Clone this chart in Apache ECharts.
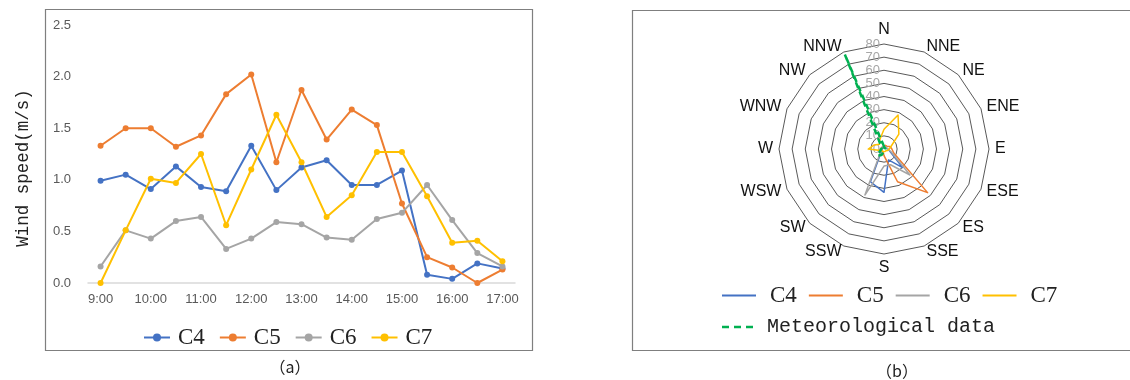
<!DOCTYPE html>
<html>
<head>
<meta charset="utf-8">
<script src="https://cdn.jsdelivr.net/npm/echarts@6/dist/echarts.min.js"></script>
<style>
  html, body { margin: 0; background: #fff; }
  #main { width: 1130px; height: 380px; }
</style>
</head>
<body>
<div id="main"></div>
<script>
// (a) wind speed over the day
const times = ["9:00", "9:30", "10:00", "10:30", "11:00", "11:30", "12:00", "12:30", "13:00",
  "13:30", "14:00", "14:30", "15:00", "15:30", "16:00", "16:30", "17:00"];
const speedC4 = [0.99, 1.05, 0.91, 1.13, 0.93, 0.89, 1.33, 0.90, 1.12, 1.19, 0.95, 0.95, 1.09, 0.08, 0.04, 0.19, 0.14];
const speedC5 = [1.33, 1.50, 1.50, 1.32, 1.43, 1.83, 2.02, 1.17, 1.87, 1.39, 1.68, 1.53, 0.77, 0.25, 0.15, 0.00, 0.13];
const speedC6 = [0.16, 0.51, 0.43, 0.60, 0.64, 0.33, 0.43, 0.59, 0.57, 0.44, 0.42, 0.62, 0.68, 0.95, 0.61, 0.29, 0.16];
const speedC7 = [0.00, 0.51, 1.01, 0.97, 1.25, 0.56, 1.10, 1.63, 1.17, 0.64, 0.85, 1.27, 1.27, 0.84, 0.39, 0.41, 0.21];
const speedTicks = [0, 0.5, 1.0, 1.5, 2.0, 2.5];

// (b) wind rose, compass order (clockwise from N)
const directions = ["N", "NNE", "NE", "ENE", "E", "ESE", "ES", "SSE", "S", "SSW", "SW", "WSW", "W", "WNW", "NW", "NNW"];
const roseC4 = [1, 2, 2, 2, 3, 5, 20, 9, 33, 27, 3, 2, 2, 1, 1, 1];
const roseC5 = [2, 3, 3, 5, 6, 8, 47, 27, 5, 2, 2, 2, 3, 2, 2, 2];
const roseC6 = [2, 2, 2, 2, 3, 6, 28, 13, 13, 38, 4, 2, 2, 2, 2, 2];
const roseC7 = [15, 28, 16, 6, 4, 3, 2, 2, 2, 2, 2, 3, 12, 8, 5, 8];
const roseMet = [2, 1, 1, 1, 1, 1, 1, 1, 2, 5, 7, 3, 2, 2, 3, 78];

const colors = { C4: "#4472C4", C5: "#ED7D31", C6: "#A5A5A5", C7: "#FFC000", met: "#00B050" };

// radar goes counter-clockwise, so walk the compass backwards after N
const order = directions.map((d, i) => (i === 0 ? 0 : directions.length - i));
const reorder = (arr) => order.map((i) => arr[i]);

const chart = echarts.init(document.getElementById("main"), null, { renderer: "canvas" });

function lineSeries(name, data) {
  return {
    name: name,
    type: "line",
    data: data,
    symbol: "circle",
    symbolSize: 6,
    lineStyle: { width: 2, color: colors[name] },
    itemStyle: { color: colors[name] },
  };
}

function roseSeries(name, data, color, dashed) {
  return {
    name: name,
    type: "radar",
    radarIndex: 0,
    symbol: "none",
    lineStyle: { width: dashed ? 2.5 : 1.5, color: color, type: dashed ? [6, 4] : "solid" },
    itemStyle: { color: color },
    data: [{ name: name, value: reorder(data) }],
  };
}

const indicators = reorder(directions).map((d, i) => {
  const ind = { name: d, min: 0, max: 80 };
  if (i === 0) {
    ind.axisLabel = { show: true, color: "#a6a6a6", fontSize: 13, fontFamily: "Liberation Sans", margin: 4 };
  }
  return ind;
});

const option = {
  animation: false,
  backgroundColor: "#fff",
  graphic: [
    { type: "rect", shape: { x: 45.5, y: 9.5, width: 487, height: 341 }, style: { fill: "none", stroke: "#7f7f7f", lineWidth: 1.2 } },
    { type: "rect", shape: { x: 632.5, y: 10.5, width: 520, height: 340 }, style: { fill: "none", stroke: "#7f7f7f", lineWidth: 1.2 } },
    { type: "text", x: 290, y: 367, style: { text: "（a）", fontSize: 16, fontFamily: "Noto Sans CJK SC", fill: "#222", align: "center", verticalAlign: "middle" } },
    { type: "text", x: 897, y: 371, style: { text: "（b）", fontSize: 16, fontFamily: "Noto Sans CJK SC", fill: "#222", align: "center", verticalAlign: "middle" } },
  ],
  legend: [
    {
      data: ["C4", "C5", "C6", "C7"],
      left: 138,
      top: 321,
      itemWidth: 26,
      itemHeight: 10,
      itemGap: 14,
      textStyle: { fontFamily: "Liberation Serif", fontSize: 23, color: "#222", padding: [0, 0, 0, 3] },
    },
    {
      data: ["C4", "C5", "C6", "C7"],
      left: 717,
      top: 279,
      icon: "path://M0,0H34V2H0Z",
      itemWidth: 34,
      itemHeight: 2,
      itemGap: 12,
      textStyle: { fontFamily: "Liberation Serif", fontSize: 23, color: "#222", padding: [0, 0, 0, 9] },
    },
    {
      data: ["Meteorological data"],
      left: 717,
      top: 312,
      icon: "path://M0,0H7V2.5H0Z M12,0H19V2.5H12Z M24,0H31V2.5H24Z",
      itemWidth: 33,
      itemHeight: 2.5,
      textStyle: { fontFamily: "Liberation Mono", fontSize: 20, color: "#222", padding: [0, 0, 0, 8] },
    },
  ],
  grid: { left: 88, right: 615, top: 25, bottom: 97 },
  xAxis: {
    type: "category",
    data: times,
    boundaryGap: true,
    axisLine: { lineStyle: { color: "#d9d9d9", width: 1.5 } },
    axisTick: { show: false },
    axisLabel: { interval: 1, color: "#595959", fontSize: 13, fontFamily: "Liberation Sans", margin: 10 },
  },
  yAxis: {
    type: "value",
    min: speedTicks[0],
    max: speedTicks[speedTicks.length - 1],
    interval: 0.5,
    name: "Wind speed(m/s)",
    nameLocation: "middle",
    nameGap: 56,
    nameTextStyle: { fontFamily: "Liberation Mono", fontSize: 17.5, color: "#222", padding: [0, 28, 0, 0] },
    axisLine: { show: false },
    axisTick: { show: false },
    splitLine: { show: false },
    axisLabel: { color: "#595959", fontSize: 13, fontFamily: "Liberation Sans", margin: 17, formatter: (v) => v.toFixed(1) },
  },
  radar: {
    center: [884, 149],
    radius: 105,
    startAngle: 90,
    splitNumber: 8,
    shape: "polygon",
    indicator: indicators,
    axisName: { color: "#111", fontSize: 16, fontFamily: "Liberation Sans" },
    nameGap: 6,
    axisLine: { show: false },
    axisTick: { show: false },
    axisLabel: { show: false },
    splitArea: { show: false },
    splitLine: { lineStyle: { color: "#595959", width: 1 } },
  },
  series: [
    lineSeries("C4", speedC4),
    lineSeries("C5", speedC5),
    lineSeries("C6", speedC6),
    lineSeries("C7", speedC7),
    roseSeries("C4", roseC4, colors.C4, false),
    roseSeries("C5", roseC5, colors.C5, false),
    roseSeries("C6", roseC6, colors.C6, false),
    roseSeries("C7", roseC7, colors.C7, false),
    roseSeries("Meteorological data", roseMet, colors.met, true),
  ],
};

chart.setOption(option);
</script>
</body>
</html>
